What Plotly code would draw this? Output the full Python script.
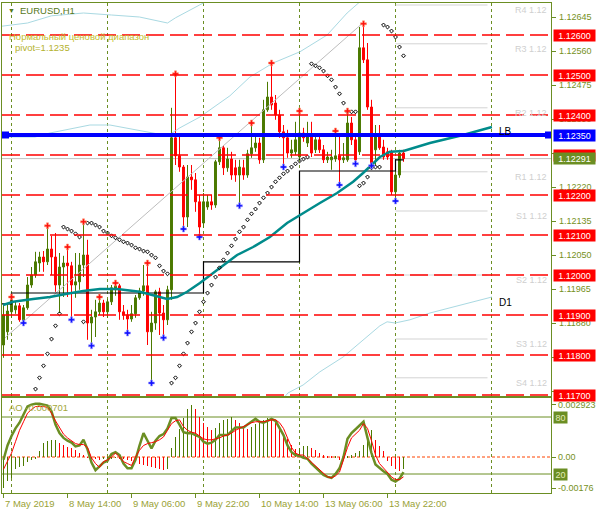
import plotly.graph_objects as go

# ---------------- data ----------------
bar_idx = list(range(101))
opens = [1.11825,1.11858,1.11908,1.11913,1.11923,1.11885,1.11918,1.11975,1.12000,1.12030,
         1.12045,1.12033,1.12065,1.12045,1.11975,1.12020,1.12030,1.12023,1.11975,1.11983,
         1.12025,1.12050,1.11880,1.11895,1.11908,1.11930,1.11908,1.11933,1.11963,1.11973,
         1.11908,1.11900,1.11890,1.11903,1.11943,1.11960,1.11973,1.11858,1.11880,1.11958,
         1.11905,1.11888,1.11963,1.12343,1.12298,1.12270,1.12145,1.12245,1.12238,1.12183,
         1.12130,1.12170,1.12183,1.12175,1.12283,1.12318,1.12268,1.12290,1.12268,1.12250,
         1.12268,1.12250,1.12303,1.12318,1.12330,1.12288,1.12413,1.12445,1.12430,1.12400,
         1.12358,1.12343,1.12305,1.12308,1.12295,1.12355,1.12330,1.12345,1.12313,1.12338,
         1.12313,1.12288,1.12288,1.12290,1.12298,1.12288,1.12288,1.12380,1.12338,1.12308,
         1.12568,1.12538,1.12420,1.12313,1.12350,1.12320,1.12308,1.12308,1.12208,1.12250,
         1.12305]
highs = [1.11925,1.11925,1.11945,1.11933,1.11930,1.11925,1.11995,1.12020,1.12058,1.12058,
         1.12060,1.12123,1.12098,1.12105,1.12055,1.12048,1.12070,1.12033,1.12055,1.12055,
         1.12133,1.12088,1.11913,1.11938,1.11945,1.11938,1.11940,1.11975,1.11980,1.11978,
         1.11925,1.11913,1.11925,1.11950,1.11968,1.12025,1.12030,1.11908,1.11963,1.11968,
         1.11925,1.11973,1.12418,1.12503,1.12345,1.12275,1.12275,1.12275,1.12255,1.12200,
         1.12205,1.12200,1.12200,1.12288,1.12343,1.12325,1.12318,1.12308,1.12288,1.12288,
         1.12288,1.12313,1.12380,1.12355,1.12343,1.12438,1.12483,1.12530,1.12450,1.12413,
         1.12375,1.12363,1.12338,1.12383,1.12410,1.12368,1.12383,1.12383,1.12355,1.12350,
         1.12325,1.12308,1.12313,1.12360,1.12355,1.12330,1.12410,1.12395,1.12350,1.12620,
         1.12628,1.12580,1.12438,1.12375,1.12375,1.12338,1.12318,1.12313,1.12275,1.12313,
         1.12313]
lows = [1.11793,1.11838,1.11893,1.11903,1.11883,1.11880,1.11913,1.11968,1.11993,1.12008,
        1.12008,1.12025,1.12000,1.11958,1.11905,1.11945,1.11945,1.11888,1.11943,1.11963,
        1.11995,1.11838,1.11823,1.11845,1.11900,1.11895,1.11893,1.11925,1.11948,1.11888,
        1.11888,1.11855,1.11883,1.11893,1.11938,1.11948,1.11825,1.11730,1.11863,1.11850,
        1.11843,1.11875,1.11938,1.12275,1.12258,1.12115,1.12120,1.12213,1.12158,1.12095,
        1.12118,1.12163,1.12163,1.12168,1.12275,1.12250,1.12258,1.12238,1.12233,1.12173,
        1.12238,1.12243,1.12293,1.12308,1.12278,1.12280,1.12408,1.12413,1.12388,1.12343,
        1.12270,1.12293,1.12293,1.12300,1.12288,1.12333,1.12320,1.12295,1.12305,1.12305,
        1.12280,1.12280,1.12263,1.12283,1.12225,1.12280,1.12283,1.12325,1.12278,1.12300,
        1.12530,1.12413,1.12273,1.12275,1.12313,1.12288,1.12288,1.12200,1.12185,1.12243,
        1.12283]
closes = [1.11900,1.11910,1.11938,1.11923,1.11888,1.11918,1.11975,1.12000,1.12033,1.12045,
          1.12033,1.12065,1.12045,1.11975,1.12020,1.12030,1.12023,1.11975,1.11983,1.12025,
          1.12050,1.11880,1.11895,1.11908,1.11930,1.11908,1.11933,1.11968,1.11973,1.11908,
          1.11900,1.11890,1.11903,1.11943,1.11960,1.11973,1.11858,1.11880,1.11958,1.11905,
          1.11888,1.11963,1.12343,1.12298,1.12270,1.12145,1.12245,1.12238,1.12183,1.12120,
          1.12183,1.12183,1.12175,1.12283,1.12318,1.12268,1.12290,1.12250,1.12250,1.12270,
          1.12250,1.12303,1.12318,1.12330,1.12288,1.12413,1.12445,1.12425,1.12400,1.12358,
          1.12343,1.12305,1.12313,1.12338,1.12355,1.12343,1.12350,1.12305,1.12338,1.12313,
          1.12288,1.12295,1.12295,1.12298,1.12288,1.12293,1.12380,1.12338,1.12288,1.12568,
          1.12538,1.12420,1.12275,1.12350,1.12318,1.12295,1.12295,1.12208,1.12250,1.12305,
          1.12291]

# Parabolic SAR (None = outside the view)
sar = [None,None,None,None,None,None,None,None,1.11715,1.11743,
       1.11773,1.11803,1.11840,1.11873,1.11903,1.12120,1.12115,1.12110,1.12103,1.12095,
       1.11883,1.12130,1.12130,1.12125,1.12120,1.12110,1.12105,1.12098,1.12093,1.12088,
       1.12083,1.12080,1.12075,1.12068,1.12065,1.12060,1.12058,1.12050,1.12043,1.12023,
       1.12010,1.12003,1.11730,1.11743,1.11773,1.11803,1.11830,1.11858,1.11880,1.11908,
       1.11933,1.11955,1.11975,1.11995,1.12018,1.12038,1.12055,1.12073,1.12090,1.12108,
       1.12120,1.12138,1.12153,1.12165,1.12180,1.12193,1.12205,1.12220,1.12233,1.12243,
       1.12253,1.12260,1.12270,1.12278,1.12285,1.12290,1.12295,1.12528,1.12523,1.12518,
       1.12510,1.12498,1.12488,1.12470,1.12453,1.12430,1.12408,1.12408,1.12408,1.12223,
       1.12230,1.12245,1.12268,1.12270,1.12270,1.12625,1.12620,1.12610,1.12595,1.12570,
       1.12548]

fractal_up_idx = [2, 11, 16, 20, 24, 28, 36, 43, 54, 62, 67, 74, 83, 86, 90]
fractal_dn_idx = [5, 17, 22, 31, 37, 40, 45, 49, 59, 70, 84, 88, 92, 98]

# moving average (teal) read at selected bars, and its projection "LB"
ma_idx = [-0.1, 2.4, 7.4, 11.6, 15.9, 19.9, 24.1, 28.4, 34.1, 39.1, 40.9, 43.4, 45.9, 49.1,
          54.1, 58.4, 62.4, 66.6, 70.9, 74.9, 79.1, 83.4, 87.4, 89.9, 94.1, 96.6, 100]
ma_val = [1.11925, 1.11933, 1.11940, 1.11945, 1.11953, 1.11960, 1.11965, 1.11965, 1.11958,
          1.11945, 1.11940, 1.11945, 1.11958, 1.11980, 1.12018, 1.12050, 1.12070, 1.12095,
          1.12130, 1.12155, 1.12180, 1.12205, 1.12233, 1.12255, 1.12295, 1.12308, 1.12310]
lb_idx = [100, 106.6, 114.9, 122.1]
lb_val = [1.12310, 1.12330, 1.12350, 1.12370]

# light-blue band lines
upper_idx = [-0.4, 6, 12, 20, 27, 34, 41, 43, 49, 52]
upper_val = [1.12622, 1.12630, 1.12648, 1.12655, 1.12650, 1.12645, 1.12630, 1.12643, 1.12675, 1.12690]
mid_idx = [-0.1, 7.9, 11.6, 19.1, 21.6, 26.6, 30.4, 36.6, 41.1, 44.1, 49.1, 56.6, 61.6,
           67.4, 74.1, 80.9, 85.9, 89.1, 90.6]
mid_val = [1.12345, 1.12345, 1.12355, 1.12370, 1.12375, 1.12375, 1.12368, 1.12358, 1.12348,
           1.12368, 1.12395, 1.12448, 1.12495, 1.12530, 1.12558, 1.12600, 1.12655, 1.12683, 1.12698]
d1_idx = [70.1, 71.1, 74.9, 79.1, 84.9, 89.9, 94.1, 95.9, 97.9, 101.6, 106.6, 122.1]
d1_val = [1.11693, 1.11705, 1.11725, 1.11758, 1.11795, 1.11838, 1.11873, 1.11883, 1.11880,
          1.11888, 1.11905, 1.11945]

# gray trend line
trend_idx = [0.4, 89.6]
trend_val = [1.11843, 1.12628]

# daily open steps
day_idx = [-0.4, 2, 26, 50, 74, 98, 100]
day_open = [1.11928, 1.11955, 1.11955, 1.12033, 1.12260, 1.12288, 1.12288]
day_sep_idx = [2, 26, 50, 74, 98, 122]

# levels
red_levels = [1.126, 1.125, 1.124, 1.123, 1.122, 1.121, 1.120, 1.119, 1.118, 1.117]
blue_level = 1.1235
bid_level = 1.12291
pivot_names = ["R4", "R3", "R2", "R1", "S1", "S2", "S3", "S4"]
pivot_vals = [1.12675, 1.12578, 1.12418, 1.12258, 1.12160, 1.12000, 1.11840, 1.11743]
pivot_span = [98, 121]
price_ticks = [1.12645, 1.12560, 1.12475, 1.12390, 1.12305, 1.12220, 1.12135,
               1.12050, 1.11965, 1.11880, 1.11795, 1.11710]
price_tick_labels = [1.12645, 1.12560, 1.12475, 1.12390, 1.12305, 1.12220, 1.12135,
                     1.12050, 1.11965, 1.11880, 1.11795]

# time labels
time_idx = [0, 16, 32, 48, 64, 80, 96]
time_text = ["7 May 2019", "8 May 14:00", "9 May 06:00", "9 May 22:00",
             "10 May 14:00", "13 May 06:00", "13 May 22:00"]

# Awesome oscillator
ao = [-0.00176,-0.00137,-0.00118,-0.00067,-0.00056,-0.00049,-0.00030,-0.00019,-0.00006,0.00032,
      0.00079,0.00088,0.00094,0.00096,0.00079,0.00069,0.00056,0.00051,0.00037,0.00022,
      0.00013,-0.00005,-0.00010,-0.00013,-0.00015,-0.00012,-0.00010,-0.00008,-0.00005,-0.00007,
      -0.00010,-0.00015,-0.00020,-0.00030,-0.00038,-0.00045,-0.00050,-0.00058,-0.00063,-0.00070,
      -0.00075,-0.00070,0.00050,0.00110,0.00160,0.00220,0.00270,0.002923,0.00268,0.00225,
      0.00190,0.00170,0.00150,0.00165,0.00190,0.00210,0.00215,0.00222,0.00210,0.00190,
      0.00170,0.00160,0.00168,0.00185,0.00190,0.00210,0.00220,0.00210,0.00190,0.00160,
      0.00130,0.00100,0.00070,0.00045,0.00050,0.00060,0.00062,0.00050,0.00040,0.00020,
      0.00010,0.00005,0.00003,0.00006,-0.00015,-0.00010,0.00002,0.00010,0.00020,0.00035,
      0.00070,0.00107,0.00154,0.00097,0.00060,0.00032,-0.00024,-0.00050,-0.00070,-0.00078,
      -0.000701]
ao_ticks = [0.002923, 0.0, -0.00176]
ao_tick_text = ["0.002923", "0.00", "-0.00176"]

# stochastic %K (olive) and %D (red)
stoch_k = [35,50,60,68,74,83,91,93,94,94, 93,92,86,72,63,58,55,53,49,50,
           56,46,32,24,28,32,34,41,43,40, 31,26,26,35,50,63,55,47,55,60,
           62,68,79,79,72,64,63,63,61,59, 54,52,53,56,61,61,61,65,69,69,
           69,72,75,78,75,74,76,78,76,68, 61,50,43,40,39,37,36,31,27,22,
           19,17,16,20,26,38,57,63,67,71, 75,58,42,30,26,23,20,14,12,15, 22]
stoch_d = [25,34,42,54,66,75,84,88,91,91, 91,90,84,76,69,62,58,55,52,51,
           51,48,37,31,27,33,35,38,42,38, 33,31,29,38,45,50,52,53,54,56,
           59,66,73,76,77,70,66,64,63,60, 57,56,56,57,58,60,61,63,66,68,
           70,72,74,75,75,75,76,77,77,74, 68,58,48,42,40,40,36,33,28,24,
           20,17,16,18,22,36,48,58,62,66, 73,68,55,40,31,26,22,17,14,14, 17]
stoch_levels = [80, 20]

# ---------------- styling / geometry ----------------
OLIVE = "#6B8E23"
BULL = "#4C7A00"
BEAR = "#FF0000"
TXT = "#76901C"
FONT = "Liberation Sans"
W, H = 597, 514
ML, MR, MT, MB = 2, 46, 3, 21
PW = W - ML - MR
PH = H - MT - MB
XMIN, XMAX = -0.375, 136.875
PMIN, PMAX = 1.116975, 1.1268
AOMIN, AOMAX = -0.002022, 0.003315
MAIN_BOTTOM = (H - MB - 396) / PH
AO_TOP = (H - MB - 398) / PH


def px_x(p):
    return (p - ML) / PW


def px_y(p):
    return (H - MB - p) / PH


fig = go.Figure()

common = dict(hoverinfo="skip", showlegend=False)

# light blue bands
for xs, ys in [(upper_idx, upper_val), (mid_idx, mid_val), (d1_idx, d1_val)]:
    fig.add_trace(go.Scatter(x=xs, y=ys, mode="lines", line=dict(color="#A9D9E2", width=1),
                             xaxis="x", yaxis="y", **common))
# gray trend
fig.add_trace(go.Scatter(x=trend_idx, y=trend_val, mode="lines",
                         line=dict(color="#BDBDBD", width=1), xaxis="x", yaxis="y", **common))
# daily open steps
fig.add_trace(go.Scatter(x=day_idx, y=day_open, mode="lines", line=dict(color="black", width=1.2, shape="hv"),
                         xaxis="x", yaxis="y", **common))

# candles
fig.add_trace(go.Candlestick(
    x=bar_idx, open=opens, high=highs, low=lows, close=closes,
    increasing=dict(line=dict(color=BULL, width=1), fillcolor=BULL),
    decreasing=dict(line=dict(color=BEAR, width=1), fillcolor=BEAR),
    whiskerwidth=0, xaxis="x", yaxis="y", **common))

# teal MA and projection
fig.add_trace(go.Scatter(x=ma_idx, y=ma_val, mode="lines", line=dict(color="#008B8B", width=2.5),
                         xaxis="x", yaxis="y", **common))
fig.add_trace(go.Scatter(x=lb_idx, y=lb_val, mode="lines", line=dict(color="#008B8B", width=2.5),
                         xaxis="x", yaxis="y", **common))

# SAR
fig.add_trace(go.Scatter(x=bar_idx, y=sar, mode="markers",
                         marker=dict(symbol="diamond-open", size=3, color="black", line=dict(width=1)),
                         xaxis="x", yaxis="y", **common))

# fractals
fig.add_trace(go.Scatter(x=fractal_up_idx, y=[highs[i] for i in fractal_up_idx], mode="markers",
                         marker=dict(symbol="cross", size=5, color="#FF1010", line=dict(color="#FFA07A", width=0.6)),
                         xaxis="x", yaxis="y", **common))
fig.add_trace(go.Scatter(x=fractal_dn_idx, y=[lows[i] for i in fractal_dn_idx], mode="markers",
                         marker=dict(symbol="cross", size=5, color="#1010FF", line=dict(color="#A0A0FF", width=0.6)),
                         xaxis="x", yaxis="y", **common))

# blue line end squares
fig.add_trace(go.Scatter(x=[0.5, 136.25], y=[blue_level, blue_level], mode="markers",
                         marker=dict(symbol="square", size=7, color="#0000FF"), xaxis="x", yaxis="y", **common))
fig.add_trace(go.Scatter(x=[0.5, 136.25], y=[blue_level, blue_level], mode="markers",
                         marker=dict(symbol="square", size=2, color="white"), xaxis="x", yaxis="y", **common))

# AO histogram
ao_colors = [BULL] + [BULL if ao[i] > ao[i - 1] else BEAR for i in range(1, len(ao))]
fig.add_trace(go.Bar(x=bar_idx, y=ao, width=0.25, marker=dict(color=ao_colors, line=dict(width=0)),
                     xaxis="x2", yaxis="y2", **common))
# stochastic
fig.add_trace(go.Scatter(x=bar_idx, y=stoch_k, mode="lines", line=dict(color=OLIVE, width=2.5),
                         xaxis="x2", yaxis="y3", **common))
fig.add_trace(go.Scatter(x=bar_idx, y=stoch_d, mode="lines", line=dict(color="#FF0000", width=1),
                         xaxis="x2", yaxis="y3", **common))

# ---------------- shapes ----------------
shapes = []
for d in day_sep_idx:
    shapes.append(dict(type="line", xref="x", yref="y domain", x0=d, x1=d, y0=0, y1=1,
                       line=dict(color=OLIVE, width=1, dash="3px,3px"), layer="below"))
    shapes.append(dict(type="line", xref="x2", yref="y2 domain", x0=d, x1=d, y0=0, y1=1,
                       line=dict(color=OLIVE, width=1, dash="3px,3px"), layer="below"))
shapes.append(dict(type="line", xref="x domain", yref="y", x0=0, x1=1, y0=bid_level, y1=bid_level,
                   line=dict(color="#C0C0C0", width=1), layer="below"))
for pv in pivot_vals:
    shapes.append(dict(type="line", xref="x", yref="y", x0=pivot_span[0], x1=pivot_span[1], y0=pv, y1=pv,
                       line=dict(color="#D3D3D3", width=1), layer="below"))
for lv in red_levels:
    shapes.append(dict(type="line", xref="x domain", yref="y", x0=0, x1=1, y0=lv, y1=lv,
                       line=dict(color="#FF0000", width=1.6, dash="18px,6px"), layer="above"))
shapes.append(dict(type="line", xref="x domain", yref="y", x0=0, x1=1, y0=blue_level, y1=blue_level,
                   line=dict(color="#0000FF", width=4), layer="above"))
for sl in stoch_levels:
    shapes.append(dict(type="line", xref="x2 domain", yref="y3", x0=0, x1=1, y0=sl, y1=sl,
                       line=dict(color=OLIVE, width=1), layer="below"))
shapes.append(dict(type="line", xref="x2 domain", yref="y2", x0=0, x1=1, y0=0, y1=0,
                   line=dict(color="#FF4500", width=1, dash="3px,2px"), layer="below"))

# ---------------- annotations ----------------
ann = []
for t in price_tick_labels:
    ann.append(dict(x=px_x(557), y=t, xref="paper", yref="y", text=f"{t:.5f}", showarrow=False,
                    xanchor="left", yanchor="middle", font=dict(family=FONT, size=9, color=TXT)))


def box(y, text, bg, yref="y", fg="white", width=41):
    return dict(x=px_x(553), y=y, xref="paper", yref=yref, text=text, showarrow=False,
                xanchor="left", yanchor="middle", bgcolor=bg, width=width, height=11, borderpad=0,
                align="center", font=dict(family=FONT, size=9, color=fg))


for lv in red_levels:
    ann.append(box(lv, f"{lv:.5f}", "#FF0000"))
ann.append(box(blue_level, f"{blue_level:.5f}", "#0000FF"))
ann.append(box(bid_level, f"{bid_level:.5f}", OLIVE))

for name, pv in zip(pivot_names, pivot_vals):
    ann.append(dict(x=px_x(549), y=pv - 0.00013, xref="paper", yref="y", text=f"{name} 1.12",
                    showarrow=False, xanchor="right", yanchor="middle",
                    font=dict(family=FONT, size=9, color="#CFCFCF")))

for v, t in zip(ao_ticks, ao_tick_text):
    ann.append(dict(x=px_x(556), y=v, xref="paper", yref="y2", text=t, showarrow=False,
                    xanchor="left", yanchor="middle", font=dict(family=FONT, size=9, color=TXT)))
for sl in stoch_levels:
    ann.append(box(sl, str(sl), OLIVE, yref="y3", fg="#E4ECB8", width=13))

for i, t in zip(time_idx, time_text):
    ann.append(dict(x=i, y=px_y(503), xref="x2", yref="paper", text=t, showarrow=False,
                    xanchor="left", yanchor="middle", xshift=-1,
                    font=dict(family=FONT, size=9.5, color="#9AA236")))

ann.append(dict(x=123.4, y=1.12358, xref="x", yref="y", text="LB", showarrow=False, xanchor="left",
                yanchor="middle", font=dict(family=FONT, size=10, color="black")))
ann.append(dict(x=123.4, y=1.119325, xref="x", yref="y", text="D1", showarrow=False, xanchor="left",
                yanchor="middle", font=dict(family=FONT, size=10, color="black")))

ann.append(dict(x=px_x(6), y=px_y(11), xref="paper", yref="paper", text="▼", showarrow=False,
                xanchor="left", yanchor="middle", font=dict(family=FONT, size=7, color="#56781A")))
ann.append(dict(x=px_x(18), y=px_y(11), xref="paper", yref="paper", text="EURUSD,H1", showarrow=False,
                xanchor="left", yanchor="middle", font=dict(family=FONT, size=9.5, color="#56781A")))
ann.append(dict(x=px_x(7), y=px_y(36), xref="paper", yref="paper", text="Нормальный ценовой диапазон",
                showarrow=False, xanchor="left", yanchor="middle",
                font=dict(family=FONT, size=9.5, color="#C2BE2A")))
ann.append(dict(x=px_x(13), y=px_y(48), xref="paper", yref="paper", text="pivot=1.1235",
                showarrow=False, xanchor="left", yanchor="middle",
                font=dict(family=FONT, size=9.5, color="#B4B22E")))
ann.append(dict(x=px_x(7), y=px_y(407), xref="paper", yref="paper", text="AO -0.000701",
                showarrow=False, xanchor="left", yanchor="middle",
                font=dict(family=FONT, size=9.5, color="#A4A83C")))

axis_common = dict(showgrid=False, zeroline=False, showline=True, mirror=True, linecolor=OLIVE,
                   linewidth=1, fixedrange=True)

fig.update_layout(
    width=W, height=H, autosize=False,
    margin=dict(l=ML, r=MR, t=MT, b=MB),
    paper_bgcolor="white", plot_bgcolor="white", showlegend=False,
    font=dict(family=FONT, size=9, color=TXT),
    xaxis=dict(domain=[0, 1], range=[XMIN, XMAX], anchor="y", showticklabels=False, ticks="",
               rangeslider=dict(visible=False), **axis_common),
    yaxis=dict(domain=[MAIN_BOTTOM, 1], range=[PMIN, PMAX], anchor="x", side="right",
               ticks="outside", ticklen=4, tickcolor=OLIVE, tickvals=price_ticks,
               showticklabels=False, **axis_common),
    xaxis2=dict(domain=[0, 1], range=[XMIN, XMAX], anchor="y2", ticks="outside", ticklen=4,
                tickcolor=OLIVE, tickvals=time_idx, showticklabels=False, **axis_common),
    yaxis2=dict(domain=[0, AO_TOP], range=[AOMIN, AOMAX], anchor="x2", side="right",
                ticks="outside", ticklen=4, tickcolor=OLIVE, tickvals=ao_ticks,
                showticklabels=False, **axis_common),
    yaxis3=dict(range=[0, 100], overlaying="y2", anchor="x2", visible=False, fixedrange=True),
    shapes=shapes,
    annotations=ann,
    bargap=0,
)

fig.write_html("out.html", config={"displayModeBar": False},
               post_script="document.body.style.margin='0';document.body.style.overflow='hidden';")
